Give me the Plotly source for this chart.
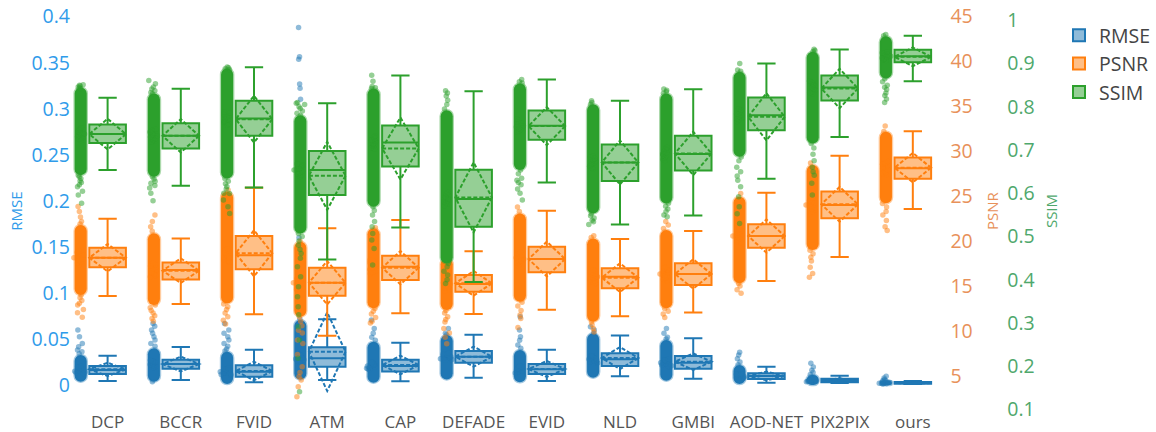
import plotly.graph_objects as go

categories = ["DCP","BCCR","FVID","ATM","CAP","DEFADE","EVID","NLD","GMBI","AOD-NET","PIX2PIX","ours"]

rmse_lf = [.0043,.0054,.0029,.0054,.0040,.0080,.0043,.0094,.0069,.0025,.0022,.0011]
rmse_q1 = [.0119,.0177,.0090,.0199,.0148,.0242,.0119,.0206,.0177,.0065,.0029,.0014]
rmse_med = [.0163,.0228,.0145,.0290,.0206,.0308,.0170,.0279,.0242,.0098,.0047,.0022]
rmse_q3 = [.0206,.0275,.0214,.0409,.0275,.0369,.0228,.0344,.0315,.0127,.0069,.0033]
rmse_uf = [.0318,.0413,.0384,.0713,.0460,.0547,.0384,.0539,.0507,.0199,.0101,.0043]
rmse_mean = [.0170,.0228,.0152,.0362,.0217,.0308,.0174,.0293,.0253,.0098,.0047,.0022]
rmse_sd = [.0072,.0080,.0101,.0427,.0101,.0109,.0087,.0119,.0090,.0047,.0025,.0009]
rmse_core_low = [.0036,.0036,.0011,.0061,.0025,.0061,.0029,.0080,.0047,.0011,.0000,.0000]
rmse_core_high = [.0326,.0398,.0362,.0706,.0471,.0543,.0380,.0561,.0489,.0217,.0109,.0043]

psnr_lf = [13.90,13.01,11.86,9.49,11.97,11.90,12.38,11.64,12.08,15.57,18.24,23.58]
psnr_q1 = [17.09,15.75,16.87,13.94,15.68,14.38,16.53,14.75,15.12,19.27,22.54,26.95]
psnr_med = [18.16,16.79,18.42,15.38,17.16,15.23,18.01,16.05,16.35,20.57,24.03,28.10]
psnr_q3 = [19.27,17.64,20.57,17.05,18.39,16.24,19.39,16.98,17.53,21.87,25.51,29.31]
psnr_uf = [22.50,20.31,25.95,21.43,22.35,18.87,23.39,20.24,21.13,25.39,29.51,32.22]
psnr_mean = [18.16,16.72,18.65,15.38,17.05,15.31,18.01,15.94,16.35,20.57,24.10,28.17]
psnr_sd = [1.52,1.37,2.56,2.41,1.85,1.37,1.93,1.59,1.63,1.85,1.93,1.63]
psnr_core_low = [14.01,12.90,13.08,11.60,12.53,12.34,13.27,11.04,12.53,15.31,19.02,24.21]
psnr_core_high = [21.80,20.87,25.50,19.94,21.43,18.09,23.09,20.31,21.24,24.95,28.47,32.18]

ssim_lf = [.6536,.6174,.6136,.4472,.5211,.3948,.6251,.5281,.5489,.6336,.7299,.8592]
ssim_q1 = [.7160,.7037,.7329,.5958,.6621,.5227,.7237,.6282,.6528,.7460,.8146,.9031]
ssim_med = [.7368,.7329,.7730,.6536,.7175,.5866,.7560,.6713,.6906,.7807,.8446,.9170]
ssim_q3 = [.7591,.7622,.8138,.6975,.7568,.6544,.7915,.7129,.7329,.8215,.8723,.9316]
ssim_uf = [.8207,.8415,.8916,.8084,.8723,.8361,.8631,.8138,.8408,.8999,.9324,.9640]
ssim_mean = [.7368,.7329,.7714,.6405,.7037,.5905,.7553,.6713,.6921,.7768,.8423,.9155]
ssim_sd = [.0354,.0385,.0539,.0786,.0716,.0809,.0439,.0508,.0501,.0547,.0454,.0216]
ssim_core_low = [.6420,.6382,.6344,.5073,.5689,.4380,.6536,.5535,.5766,.6844,.7152,.8654]
ssim_core_high = [.8446,.8307,.8885,.7807,.8423,.7922,.8539,.8061,.8307,.8808,.9270,.9632]

rmse_points = [
 [.0597,.0525,.0452,.0416,.038,.0362,.034,.0205,.0197,.0189,.0181,.0173,.0165,.0157,.0149,.0141,.0133,.0125],
 [.0667,.0638,.0597,.0561,.0525,.049,.0452,.042,.027,.0262,.0254,.0246,.0238,.023,.0222,.0214,.0206,.0198,.019,.0036],
 [.0668,.0597,.0561,.0525,.049,.0452,.042,.039,.037,.0185,.0177,.0169,.0161,.0153,.0145,.0137,.0129,.0121,.0113,.0105],
 [.3883,.3565,.3536,.3268,.3221,.3102,.28,.21,.16,.12,.09,.08,.072,.033,.0322,.0314,.0306,.0298,.029,.0282,.0274,.0266,.0258,.025],
 [.0705,.0615,.0561,.052,.0485,.0246,.0238,.023,.0222,.0214,.0206,.0198,.019,.0182,.0174,.0166],
 [.0615,.0561,.0545,.0348,.034,.0332,.0324,.0316,.0308,.03,.0292,.0284,.0276,.0268],
 [.0741,.0597,.0525,.0485,.0435,.04,.021,.0202,.0194,.0186,.0178,.017,.0162,.0154,.0146,.0138,.013],
 [.0633,.0597,.0561,.0319,.0311,.0303,.0295,.0287,.0279,.0271,.0263,.0255,.0247,.0239],
 [.0615,.0561,.052,.05,.0282,.0274,.0266,.0258,.025,.0242,.0234,.0226,.0218,.021,.0202],
 [.0355,.0325,.0285,.025,.022,.0123,.0118,.0113,.0108,.0103,.0098,.0093,.0088,.0083,.0078,.0073],
 [.0235,.0195,.016,.0135,.0115,.0062,.0059,.0056,.0053,.005,.0047,.0044,.0041,.0038,.0035,.0032],
 [.0095,.0075,.006,.005,.0045,.0032,.003,.0028,.0026,.0024,.0022,.002,.0018,.0016,.0014,.0012],
]
psnr_points = [
 [23.85,23.3,22.7,22.2,21.9,18.91,18.76,18.61,18.46,18.31,18.16,18.01,17.86,17.71,17.56,17.41,14.0,13.7,13.4,13.1,12.9,12.4,12.05,11.55],
 [22.9,22.2,21.6,21.1,17.54,17.39,17.24,17.09,16.94,16.79,16.64,16.49,16.34,16.19,16.04,12.9,12.6,12.3,12.0,11.7,11.4,11.1],
 [25.7,19.17,19.02,18.87,18.72,18.57,18.42,18.27,18.12,17.97,17.82,17.67,13.0,12.7,12.4,12.0,11.6,11.2,10.8],
 [20.0,16.13,15.98,15.83,15.68,15.53,15.38,15.23,15.08,14.93,14.78,14.63,11.6,11.1,10.6,10.1,9.8,9.0,8.63,7.4,6.04,5.4,4.93,4.56,3.81,2.70],
 [21.5,17.91,17.76,17.61,17.46,17.31,17.16,17.01,16.86,16.71,16.56,16.41,12.5,12.2,11.9,11.5,11.1,10.9],
 [18.2,15.98,15.83,15.68,15.53,15.38,15.23,15.08,14.93,14.78,14.63,14.48,12.3,12.0,11.6,11.3,11.0,10.3,9.8,9.3,8.6],
 [23.8,23.3,18.76,18.61,18.46,18.31,18.16,18.01,17.86,17.71,17.56,17.41,17.26,13.2,12.8,12.3,11.8,11.4,10.4],
 [20.6,20.4,16.8,16.65,16.5,16.35,16.2,16.05,15.9,15.75,15.6,15.45,15.3,11.0,10.7,10.3,9.9],
 [22.2,21.8,21.4,17.1,16.95,16.8,16.65,16.5,16.35,16.2,16.05,15.9,15.75,15.6,12.5,12.2,11.9,11.5],
 [25.3,21.32,21.17,21.02,20.87,20.72,20.57,20.42,20.27,20.12,19.97,19.82,15.3,15.0,14.6,14.2],
 [28.7,24.78,24.63,24.48,24.33,24.18,24.03,23.88,23.73,23.58,23.43,23.28,19.0,18.6,18.2,17.8,17.1,16.4,16.0],
 [32.8,32.2,28.85,28.7,28.55,28.4,28.25,28.1,27.95,27.8,27.65,27.5,27.35,24.2,23.8,23.3,22.9,22.3,21.6,21.2],
]
ssim_points = [
 [.851,.85,.848,.846,.844,.842,.7518,.7488,.7458,.7428,.7398,.7368,.7338,.7308,.7278,.7248,.7218,.642,.638,.634,.629,.625,.62,.615,.605,.596,.577],
 [.861,.853,.846,.841,.837,.833,.83,.7479,.7449,.7419,.7389,.7359,.7329,.7299,.7269,.7239,.7209,.7179,.638,.633,.628,.623,.618,.612,.6,.583],
 [.892,.89,.888,.886,.788,.785,.782,.779,.776,.773,.77,.767,.764,.761,.758,.634,.628,.622,.616,.61,.6,.5997,.5843,.5689,.5535],
 [.81,.808,.805,.8,.796,.79,.785,.78,.6686,.6656,.6626,.6596,.6566,.6536,.6506,.6476,.6446,.6416,.6386,.507,.5,.49,.48,.47,.461,.45,.43,.407,.384,.361,.338,.319,.2916,.261,.2185,.1414],
 [.873,.859,.847,.844,.842,.7325,.7295,.7265,.7235,.7205,.7175,.7145,.7115,.7085,.7055,.7025,.569,.56,.55,.535,.5227,.5073,.4919,.4726,.4341],
 [.837,.832,.825,.815,.805,.795,.6016,.5986,.5956,.5926,.5896,.5866,.5836,.5806,.5776,.5746,.5716,.438,.43,.42,.411,.4,.3917],
 [.863,.858,.855,.771,.768,.765,.762,.759,.756,.753,.75,.747,.744,.741,.654,.645,.635,.63,.625,.62,.61,.6,.5843],
 [.814,.81,.806,.6863,.6833,.6803,.6773,.6743,.6713,.6683,.6653,.6623,.6593,.6563,.553,.548,.543,.538,.534,.528],
 [.841,.838,.835,.831,.7056,.7026,.6996,.6966,.6936,.6906,.6876,.6846,.6816,.6786,.6756,.577,.57,.564,.558,.55,.546],
 [.9,.885,.882,.7957,.7927,.7897,.7867,.7837,.7807,.7777,.7747,.7717,.7687,.7657,.684,.675,.66,.65,.64,.63,.615,.592,.569,.553,.53],
 [.933,.93,.928,.8596,.8566,.8536,.8506,.8476,.8446,.8416,.8386,.8356,.8326,.8296,.715,.705,.69,.675,.66,.6498,.642,.623,.596],
 [.967,.964,.927,.925,.923,.921,.919,.917,.915,.913,.911,.909,.907,.865,.858,.85,.845,.84,.832,.826,.818,.81],
]

C = ["#1f77b4", "#ff7f0e", "#2ca02c"]
EDGE = ["rgba(31,119,180,0.4)", "rgba(255,127,14,0.4)", "rgba(44,160,44,0.4)"]
TICK = ["#2f9bea", "#e8915a", "#4fa86c"]
FONT = "Open Sans"

series = [
    ("RMSE", "y", rmse_points, rmse_lf, rmse_q1, rmse_med, rmse_q3, rmse_uf, rmse_mean, rmse_sd, rmse_core_low, rmse_core_high),
    ("PSNR", "y2", psnr_points, psnr_lf, psnr_q1, psnr_med, psnr_q3, psnr_uf, psnr_mean, psnr_sd, psnr_core_low, psnr_core_high),
    ("SSIM", "y3", ssim_points, ssim_lf, ssim_q1, ssim_med, ssim_q3, ssim_uf, ssim_mean, ssim_sd, ssim_core_low, ssim_core_high),
]

fig = go.Figure()
for k, (name, ax, pts, lf, q1, med, q3, uf, mean, sd, lo, hi) in enumerate(series):
    fig.add_trace(go.Bar(
        x=categories, base=lo, y=[h - l for h, l in zip(hi, lo)], yaxis=ax,
        width=0.165, offset=-0.45,
        marker=dict(color=C[k], line=dict(color=EDGE[k], width=2.5), cornerradius=6),
        showlegend=False, hoverinfo="skip",
    ))
    fig.add_trace(go.Box(
        name=name, x=categories, y=pts, yaxis=ax,
        q1=q1, median=med, q3=q3, lowerfence=lf, upperfence=uf, mean=mean, sd=sd,
        boxpoints="all", jitter=0.35, pointpos=-1.5, width=0.5,
        marker=dict(color=C[k], size=5.5, opacity=0.5, line_width=0),
        line=dict(color=C[k], width=2),
    ))


def axis(k, title, rng, tick0, dtick, standoff=None, **kw):
    return dict(
        title=dict(text=title, standoff=standoff, font=dict(size=15, color=TICK[k], family=FONT)),
        range=rng, tick0=tick0, dtick=dtick, showgrid=False, zeroline=False, automargin=False,
        showline=False, tickfont=dict(size=19.5, color=TICK[k], family=FONT), **kw,
    )


fig.update_layout(
    width=1156, height=432, autosize=False,
    margin=dict(l=71, r=0, t=10, b=20),
    paper_bgcolor="white", plot_bgcolor="white",
    font=dict(family=FONT, color="#444"),
    boxmode="overlay", barmode="overlay",
    xaxis=dict(type="category", categoryorder="array", categoryarray=categories, range=[-0.5, 11.5],
               domain=[0, 0.8111], showgrid=False, zeroline=False, showline=False, automargin=False,
               ticklabelstandoff=-2, tickfont=dict(size=17, family=FONT, color="#555")),
    yaxis=axis(0, "RMSE", [-0.0293, 0.4072], 0, 0.05, standoff=5),
    yaxis2=axis(1, "PSNR", [1.0, 45.71], 5, 5, overlaying="y", side="right", anchor="x"),
    yaxis3=axis(2, "SSIM", [0.0945, 1.0237], 0.1, 0.1, standoff=12, overlaying="y", side="right", anchor="free", position=0.8636),
    legend=dict(x=0.9125, y=0.985, xanchor="left", yanchor="top", entrywidth=52, entrywidthmode="pixels",
                font=dict(size=19.5, family=FONT, color="#444")),
)

fig.write_html("out.html", post_script="document.body.style.margin='0';", config={"displayModeBar": False})
